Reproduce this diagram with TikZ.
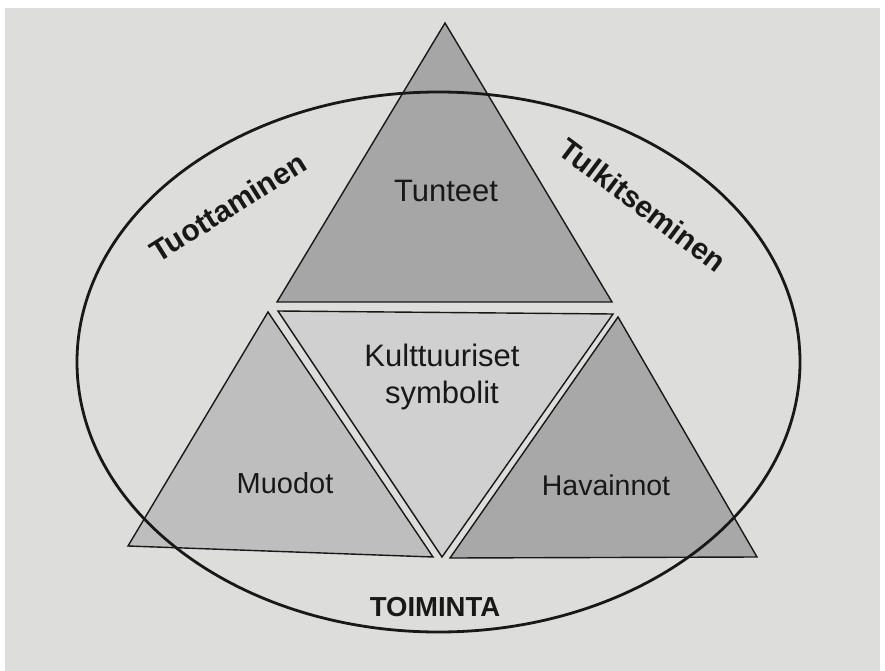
\documentclass[tikz,border=0pt]{standalone}
\usepackage{fontspec}
\setmainfont{Liberation Sans}
\definecolor{paper}{RGB}{221,221,219}
\definecolor{topfill}{RGB}{166,166,166}
\definecolor{leftfill}{RGB}{190,190,190}
\definecolor{midfill}{RGB}{208,208,208}
\definecolor{rightfill}{RGB}{168,168,168}
\definecolor{ink}{RGB}{24,24,24}
\begin{document}
\begin{tikzpicture}[x=1pt,y=-1pt,
  tri/.style={draw=ink,line width=1.4pt,line join=miter},
  lbl/.style={text=ink,inner sep=0pt,align=center},
  blbl/.style={text=ink,font=\fontsize{30}{36}\selectfont\bfseries,inner sep=0pt}]
\useasboundingbox (0,0) rectangle (885,671);
\fill[white] (0,0) rectangle (885,671);
\fill[paper] (5,8) rectangle (880,671);
% top triangle
\filldraw[tri,fill=topfill] (445,23) -- (277,302) -- (612,302) -- cycle;
% middle inverted triangle
\filldraw[tri,fill=midfill] (278,311) -- (613,314) -- (442,557) -- cycle;
% left triangle
\filldraw[tri,fill=leftfill] (268,312) -- (128,546) -- (433,557) -- cycle;
% right triangle
\filldraw[tri,fill=rightfill] (618,317) -- (450,558) -- (757,557) -- cycle;
% ellipse
\draw[ink,line width=2.8pt] (438.5,362) ellipse [x radius=361.5,y radius=270];
% labels
\node[lbl,font=\fontsize{31}{36}\selectfont] (tunteet) at (446,191) {Tunteet};
\node[lbl,font=\fontsize{31}{37}\selectfont] (kult) at (442,377) {Kulttuuriset\\symbolit};
\node[lbl,font=\fontsize{29}{34}\selectfont] (muodot) at (285,483) {Muodot};
\node[lbl,font=\fontsize{28.5}{34}\selectfont] (havainnot) at (606,485) {Havainnot};
\node[blbl,font=\fontsize{27.5}{32}\selectfont\bfseries] (toiminta) at (435,607) {TOIMINTA};
\node[blbl,rotate=32] (tuott) at (228,207) {Tuottaminen};
\node[blbl,rotate=-37] (tulk) at (643,205) {Tulkitseminen};
\end{tikzpicture}
\end{document}
